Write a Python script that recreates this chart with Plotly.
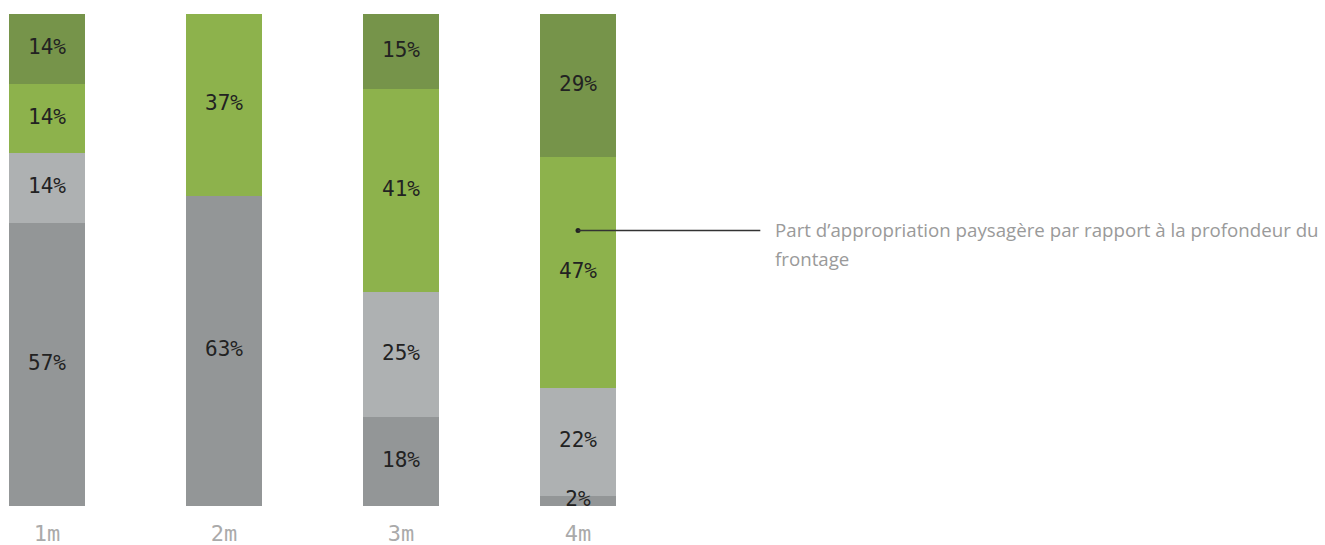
import plotly.graph_objects as go

# Frontage depth categories
depths = ["1m", "2m", "3m", "4m"]

# Share of each band per depth (bottom to top), in %
dark_grey = [57, 63, 18, 2]
light_grey = [14, 0, 25, 22]
light_green = [14, 37, 41, 47]
dark_green = [14, 0, 15, 29]

series = [
    ("dark_grey", dark_grey, "#939697"),
    ("light_grey", light_grey, "#aeb1b2"),
    ("light_green", light_green, "#8db24c"),
    ("dark_green", dark_green, "#76944a"),
]

note_lines = ["Part d’appropriation paysagère par rapport à la profondeur du", "frontage"]

W, H = 1325, 545
TOP, BOTTOM = 14, 39
plot_h = H - TOP - BOTTOM
x_pos = list(range(len(depths)))

fig = go.Figure()
for name, vals, col in series:
    fig.add_trace(go.Bar(
        x=x_pos, y=vals, name=name,
        marker=dict(color=col, line=dict(width=0)),
        width=0.43,
        hoverinfo="skip",
    ))

# Segment labels, placed at each band's midpoint on the normalised (100%) scale
totals = [sum(s[1][i] for s in series) for i in range(len(depths))]
lab_x, lab_y, lab_t = [], [], []
for i in range(len(depths)):
    base = 0.0
    for _, vals, _ in series:
        v = vals[i]
        share = 100.0 * v / totals[i]
        if v:
            lab_x.append(x_pos[i])
            lab_y.append(base + share / 2)
            lab_t.append(f"{v}%")
        base += share
fig.add_trace(go.Scatter(
    x=lab_x, y=lab_y, text=lab_t, mode="text",
    textposition="middle center", cliponaxis=False,
    textfont=dict(family="DejaVu Sans Mono", size=21, color="#222222"),
    hoverinfo="skip", showlegend=False,
))

# Callout on the 4m green band
fig.add_trace(go.Scatter(
    x=[3], y=[56], mode="markers",
    marker=dict(size=5, color="#222222"),
    hoverinfo="skip", showlegend=False,
))
fig.add_shape(type="line", xref="x", yref="y", x0=3, x1=4.03, y0=56, y1=56,
              line=dict(color="#333333", width=1.4))
for i, line in enumerate(note_lines):
    fig.add_annotation(
        text=line, xref="paper", yref="paper",
        x=773 / W, y=(H - BOTTOM - 215 - 29 * i) / plot_h, xanchor="left", yanchor="top",
        align="left", showarrow=False,
        font=dict(family="Open Sans", size=18.7, color="#9a9a9a"),
    )

x0 = -47 / 177
fig.update_layout(
    width=W, height=H,
    barmode="stack", barnorm="percent",
    showlegend=False,
    margin=dict(l=0, r=0, t=TOP, b=BOTTOM, autoexpand=False),
    plot_bgcolor="white", paper_bgcolor="white",
    xaxis=dict(
        range=[x0, x0 + W / 177], tickmode="array", tickvals=x_pos, ticktext=depths,
        showgrid=False, zeroline=False, showline=False, ticks="",
        automargin=False, ticklabelstandoff=12,
        tickfont=dict(family="DejaVu Sans Mono", size=22, color="#aaaaaa"),
    ),
    yaxis=dict(range=[0, 100], visible=False, showgrid=False, zeroline=False),
)

fig.write_html("out.html")
